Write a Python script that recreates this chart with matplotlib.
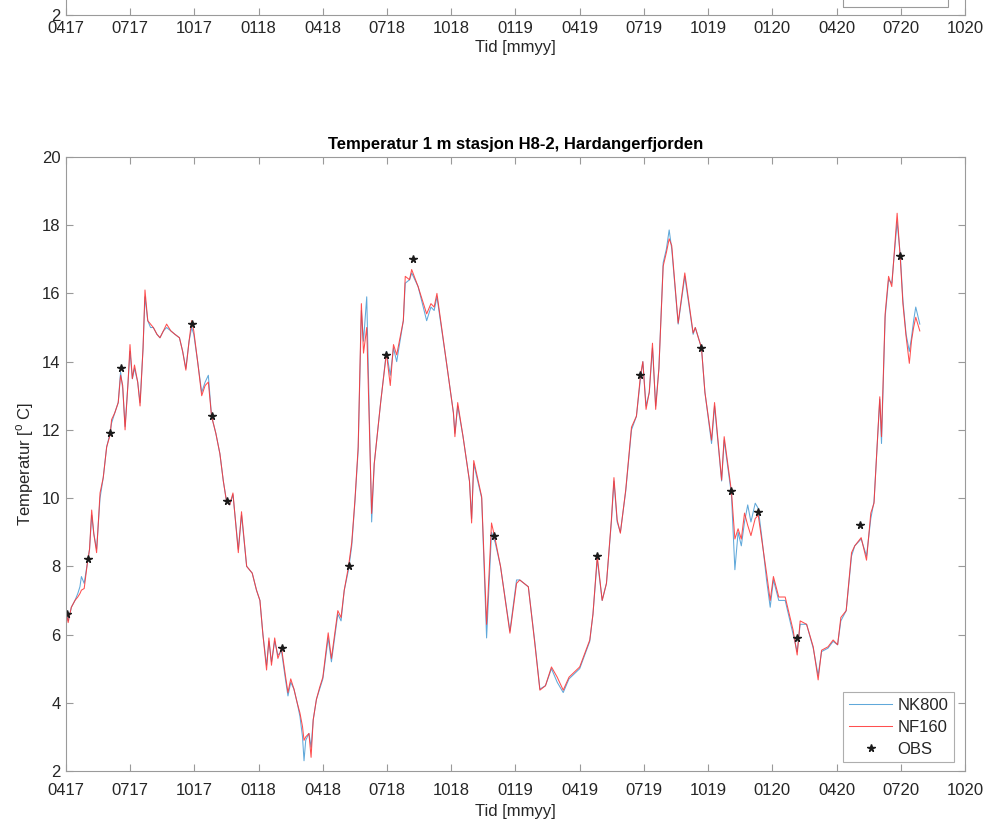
import numpy as np
import matplotlib
matplotlib.use('Agg')
import matplotlib.pyplot as plt
from matplotlib.patches import Rectangle

# x = months since April 2017 (0417)
months = [
    0.00, 0.03, 0.10, 0.25, 0.42, 0.55, 0.65, 0.72, 0.85, 1.00,
    1.10, 1.20, 1.30, 1.43, 1.59, 1.74, 1.90, 2.06, 2.13, 2.28,
    2.44, 2.55, 2.65, 2.76, 2.90, 2.99, 3.10, 3.20, 3.35, 3.46,
    3.60, 3.69, 3.82, 3.95, 4.08, 4.25, 4.39, 4.55, 4.70, 4.90,
    5.09, 5.30, 5.45, 5.60, 5.75, 5.87, 5.97, 6.15, 6.34, 6.50,
    6.65, 6.80, 7.00, 7.19, 7.35, 7.50, 7.65, 7.80, 8.05, 8.20,
    8.44, 8.70, 8.90, 9.06, 9.20, 9.37, 9.48, 9.60, 9.75, 9.90,
    10.07, 10.25, 10.37, 10.50, 10.65, 10.80, 10.93, 11.05, 11.12, 11.20,
    11.35, 11.45, 11.55, 11.70, 11.85, 12.00, 12.25, 12.40, 12.70, 12.85,
    13.00, 13.20, 13.35, 13.50, 13.65, 13.80, 13.90, 14.05, 14.28, 14.40,
    14.70, 14.97, 15.15, 15.30, 15.45, 15.76, 15.85, 16.05, 16.15, 16.45,
    16.85, 17.05, 17.20, 17.33, 17.78, 18.10, 18.17, 18.30, 18.55, 18.85,
    18.95, 19.05, 19.42, 19.65, 19.88, 20.05, 20.30, 20.74, 21.05, 21.20,
    21.40, 21.60, 21.90, 22.14, 22.40, 22.68, 22.95, 23.23, 23.50, 24.00,
    24.47, 24.62, 24.82, 25.05, 25.25, 25.48, 25.60, 25.75, 25.90, 26.15,
    26.42, 26.65, 26.84, 26.95, 27.10, 27.25, 27.40, 27.55, 27.70, 27.90,
    28.05, 28.18, 28.30, 28.60, 28.91, 29.30, 29.40, 29.69, 29.85, 30.16,
    30.30, 30.63, 30.75, 31.09, 31.25, 31.40, 31.55, 31.70, 31.85, 32.00,
    32.20, 32.34, 32.50, 32.73, 32.90, 33.05, 33.30, 33.60, 33.97, 34.16,
    34.30, 34.60, 34.91, 35.14, 35.30, 35.60, 35.84, 36.05, 36.20, 36.45,
    36.70, 36.85, 37.15, 37.40, 37.60, 37.75, 38.02, 38.10, 38.27, 38.43,
    38.58, 38.83, 38.98, 39.10, 39.25, 39.40, 39.50, 39.60, 39.70, 39.89,
]

nf160 = [
    6.5, 6.6, 6.35, 6.8, 7.0, 7.1, 7.2, 7.3, 7.35, 8.1,
    8.5, 9.65, 8.95, 8.4, 10.15, 10.6, 11.5, 11.85, 12.3, 12.5,
    12.8, 13.6, 13.3, 12.0, 13.4, 14.5, 13.5, 13.9, 13.4, 12.7,
    14.4, 16.1, 15.2, 15.1, 15.0, 14.8, 14.7, 14.9, 15.1, 14.9,
    14.8, 14.7, 14.3, 13.75, 14.6, 15.2, 14.9, 14.0, 13.0, 13.3,
    13.4, 12.4, 11.9, 11.3, 10.5, 9.9, 9.8, 10.15, 8.4, 9.6,
    8.0, 7.8, 7.3, 7.0, 6.0, 4.96, 5.9, 5.1, 5.9, 5.3,
    5.6, 4.8, 4.3, 4.7, 4.4, 4.0, 3.7, 3.3, 2.9, 3.0,
    3.1, 2.4, 3.5, 4.1, 4.45, 4.75, 6.05, 5.3, 6.7, 6.5,
    7.3, 8.0, 8.7, 9.95, 11.5, 15.7, 14.25, 15.0, 9.55, 11.0,
    12.8, 14.25, 13.3, 14.5, 14.2, 15.2, 16.5, 16.4, 16.7, 16.2,
    15.4, 15.7, 15.6, 16.0, 13.95, 12.5, 11.8, 12.8, 11.8, 10.5,
    9.27, 11.1, 10.04, 6.3, 9.27, 8.8, 8.0, 6.04, 7.5, 7.6,
    7.5, 7.4, 5.75, 4.37, 4.5, 5.05, 4.75, 4.37, 4.75, 5.05,
    5.84, 6.6, 8.3, 7.0, 7.5, 9.36, 10.6, 9.36, 8.97, 10.24,
    12.08, 12.4, 13.6, 14.0, 12.6, 13.1, 14.54, 12.6, 13.8, 16.8,
    17.2, 17.6, 17.4, 15.13, 16.6, 14.84, 15.0, 14.4, 13.1, 11.7,
    12.8, 10.53, 11.8, 10.19, 8.8, 9.1, 8.8, 9.56, 9.2, 8.9,
    9.4, 9.5, 8.8, 7.8, 7.0, 7.7, 7.1, 7.1, 6.13, 5.4,
    6.4, 6.3, 5.64, 4.67, 5.54, 5.64, 5.84, 5.7, 6.5, 6.7,
    8.4, 8.6, 8.84, 8.18, 9.56, 9.85, 12.97, 11.8, 15.4, 16.5,
    16.2, 18.35, 17.0, 15.7, 14.73, 13.95, 14.6, 15.0, 15.3, 14.9,
]

nk800 = [
    6.5, 6.6, 6.4, 6.8, 7.0, 7.2, 7.4, 7.7, 7.5, 8.1,
    8.5, 9.5, 8.95, 8.5, 10.0, 10.6, 11.5, 11.9, 12.2, 12.5,
    12.8, 13.7, 13.2, 12.1, 13.4, 14.3, 13.5, 13.8, 13.4, 12.8,
    14.4, 15.9, 15.2, 15.0, 15.0, 14.8, 14.7, 14.9, 15.0, 14.9,
    14.8, 14.7, 14.3, 13.8, 14.6, 15.0, 14.8, 14.0, 13.1, 13.4,
    13.6, 12.4, 11.9, 11.3, 10.5, 9.9, 9.8, 10.1, 8.5, 9.5,
    8.0, 7.8, 7.3, 7.0, 6.0, 5.1, 5.8, 5.2, 5.8, 5.4,
    5.5, 4.7, 4.2, 4.6, 4.4, 4.0, 3.6, 3.0, 2.3, 2.9,
    3.1, 2.7, 3.5, 4.1, 4.4, 4.7, 5.9, 5.2, 6.6, 6.4,
    7.3, 7.9, 8.6, 9.9, 11.4, 15.5, 14.6, 15.9, 9.3, 11.0,
    12.8, 14.3, 13.6, 14.4, 14.0, 15.2, 16.3, 16.4, 16.6, 16.2,
    15.2, 15.6, 15.5, 15.9, 13.95, 12.5, 11.9, 12.7, 11.8, 10.5,
    9.4, 11.0, 10.0, 5.9, 9.0, 8.7, 8.0, 6.1, 7.6, 7.6,
    7.5, 7.4, 5.8, 4.4, 4.5, 5.0, 4.6, 4.3, 4.7, 5.0,
    5.8, 6.6, 8.2, 7.0, 7.5, 9.3, 10.5, 9.3, 9.0, 10.2,
    12.0, 12.4, 13.5, 14.0, 12.7, 13.1, 14.4, 12.7, 13.8, 16.9,
    17.3, 17.86, 17.3, 15.1, 16.5, 14.8, 15.0, 14.4, 13.1, 11.6,
    12.7, 10.5, 11.7, 10.1, 7.9, 9.0, 8.6, 9.3, 9.8, 9.3,
    9.85, 9.7, 8.9, 7.6, 6.8, 7.6, 7.0, 7.0, 6.0, 5.5,
    6.3, 6.3, 5.6, 4.8, 5.5, 5.6, 5.8, 5.7, 6.4, 6.7,
    8.3, 8.6, 8.8, 8.3, 9.4, 9.9, 12.9, 11.6, 15.3, 16.4,
    16.3, 18.1, 17.1, 15.8, 14.8, 14.3, 14.7, 15.2, 15.6, 15.1,
]

obs_months = [0.03, 1.04, 2.06, 2.55, 5.87, 6.80, 7.50, 10.07, 13.20, 14.97,
              16.19, 19.98, 24.82, 26.84, 29.69, 31.09, 32.34, 34.16, 37.09, 38.98]
obs_temp = [6.6, 8.2, 11.9, 13.8, 15.1, 12.4, 9.9, 5.6, 8.0, 14.2,
            17.0, 8.9, 8.3, 13.6, 14.4, 10.2, 9.6, 5.9, 9.2, 17.1]

tick_labels = ['0417', '0717', '1017', '0118', '0418', '0718', '1018', '0119',
               '0419', '0719', '1019', '0120', '0420', '0720', '1020']

plt.rcParams['font.family'] = ['Liberation Sans', 'DejaVu Sans']
plt.rcParams['font.size'] = 12
plt.rcParams['mathtext.fontset'] = 'custom'
plt.rcParams['mathtext.rm'] = 'Liberation Sans'

text_col = '#262626'
axis_col = '#9a9a9a'
blue = '#4f9fd6'
red = '#ff3030'


def style_axes(ax, yticks, xpad, lpad):
    ax.set_xlim(0, 42)
    ax.set_ylim(2, 20)
    ax.set_xticks(np.arange(0, 43, 3))
    ax.set_xticklabels(tick_labels)
    ax.set_yticks(yticks)
    ax.tick_params(direction='in', length=5, width=0.8, color=axis_col,
                   labelcolor=text_col, labelsize=12, top=True, right=True)
    ax.tick_params(axis='x', pad=xpad)
    ax.tick_params(axis='y', pad=4)
    for sp in ax.spines.values():
        sp.set_color(axis_col)
        sp.set_linewidth(0.8)
    ax.set_xlabel('Tid [mmyy]', color=text_col, fontsize=12, labelpad=lpad)


fig = plt.figure(figsize=(9.88, 8.30), dpi=100)

# upper panel, only its bottom edge is inside the picture
ax0 = fig.add_axes([0.0668, 0.9819, 0.9099, 0.7398])
style_axes(ax0, [2], 4, 3)
# bottom part of its legend box
ax0.add_patch(Rectangle((0.8645, 0.013), 0.1165, 0.11, transform=ax0.transAxes,
                        fill=False, edgecolor=axis_col, lw=0.8))

# main panel
ax = fig.add_axes([0.0668, 0.0711, 0.9099, 0.7398])
style_axes(ax, np.arange(2, 21, 2), 9, 4)
l1, = ax.plot(months, nk800, color=blue, lw=0.75, alpha=0.9)
l2, = ax.plot(months, nf160, color=red, lw=0.75, alpha=0.85)
l3, = ax.plot(obs_months, obs_temp, ls='none', marker='*', color='#1a1a1a', ms=5.5)
ax.set_ylabel('Temperatur [$^\\mathregular{o}$ C]', color=text_col, fontsize=12, labelpad=4)
ax.set_title('Temperatur 1 m stasjon H8-2, Hardangerfjorden', fontsize=12,
             fontweight='bold', color='black', pad=6)

leg = ax.legend([l1, l2, l3], ['NK800', 'NF160', 'OBS'], loc='lower right',
                bbox_to_anchor=(0.988, 0.014), fontsize=12, frameon=True,
                fancybox=False, handlelength=2.6, handletextpad=0.3,
                labelspacing=0.4, borderpad=0.35, borderaxespad=0)
leg.get_frame().set_edgecolor(axis_col)
leg.get_frame().set_linewidth(0.8)
for t in leg.get_texts():
    t.set_color(text_col)

fig.savefig('out.png', dpi=100)
